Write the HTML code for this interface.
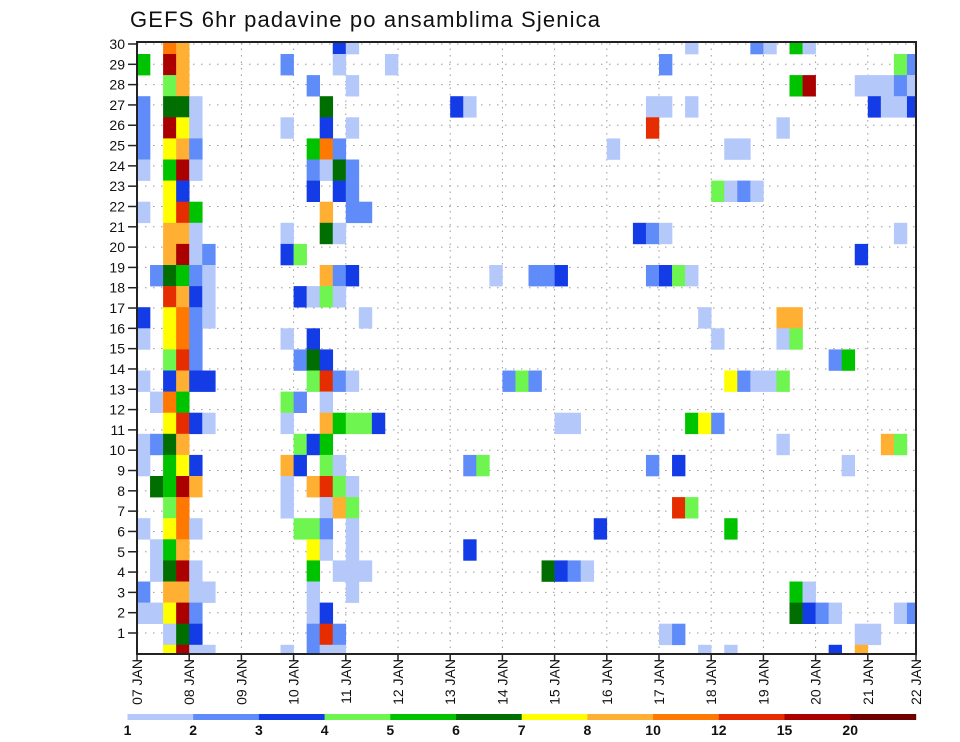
<!DOCTYPE html>
<html><head><meta charset="utf-8">
<style>
html,body{margin:0;padding:0;background:#fff;}
svg{display:block;font-family:"Liberation Sans",sans-serif;}
</style></head>
<body>
<svg id="chart" width="960" height="742" viewBox="0 0 960 742">
<defs><clipPath id="plotclip"><rect x="137" y="42" width="779" height="612"/></clipPath></defs>
<text x="130" y="27" font-size="22" fill="#111" textLength="470" lengthAdjust="spacing">GEFS 6hr padavine po ansamblima Sjenica</text>
<g id="grid"></g>
<g id="cells" clip-path="url(#plotclip)"></g>
<g id="axes"></g>
<g id="legend"></g>
</svg>
<script>
// colour levels (mm) and legend labels
const levels = [1,2,3,4,5,6,7,8,10,12,15,20];
const levelColors = ["#b4c8fa","#608cfa","#143ce6","#6ef550","#00c300","#006e00","#ffff00","#ffb032","#ff7800","#e62d00","#aa0000","#6e0000"];
const dayLabels = ["07 JAN","08 JAN","09 JAN","10 JAN","11 JAN","12 JAN","13 JAN","14 JAN","15 JAN","16 JAN","17 JAN","18 JAN","19 JAN","20 JAN","21 JAN","22 JAN"];
const memberLabels = [1,2,3,4,5,6,7,8,9,10,11,12,13,14,15,16,17,18,19,20,21,22,23,24,25,26,27,28,29,30];
// precip[row] = list of [6h-step index, mm]; rows top to bottom
const precip = [
[[2,11],[3,9],[15,3.5],[16,1.5],[42,1.5],[47,2.5],[48,1.5],[50,5.5],[51,1.5]],
[[0,5.5],[2,17],[3,9],[11,2.5],[15,1.5],[19,1.5],[40,2.5],[58,4.5],[59,2.5]],
[[2,4.5],[3,9],[13,2.5],[16,1.5],[50,5.5],[51,17],[55,1.5],[56,1.5],[57,1.5],[58,2.5],[59,1.5]],
[[0,2.5],[2,6.5],[3,6.5],[4,1.5],[14,6.5],[24,3.5],[25,1.5],[39,1.5],[40,1.5],[42,1.5],[56,3.5],[57,1.5],[58,1.5],[59,3.5]],
[[0,2.5],[2,17],[3,7.5],[4,1.5],[11,1.5],[14,3.5],[16,1.5],[39,13.5],[49,1.5]],
[[0,2.5],[2,7.5],[3,9],[4,2.5],[13,5.5],[14,11],[15,2.5],[36,1.5],[45,1.5],[46,1.5]],
[[0,1.5],[2,5.5],[3,17],[4,1.5],[13,2.5],[14,1.5],[15,6.5],[16,2.5]],
[[2,7.5],[3,3.5],[13,3.5],[15,3.5],[16,2.5],[44,4.5],[45,1.5],[46,2.5],[47,1.5]],
[[0,1.5],[2,7.5],[3,13.5],[4,5.5],[14,9],[16,2.5],[17,2.5]],
[[2,9],[3,9],[4,1.5],[11,1.5],[14,6.5],[15,1.5],[38,3.5],[39,2.5],[40,1.5],[58,1.5]],
[[2,9],[3,17],[4,1.5],[5,2.5],[11,3.5],[12,4.5],[55,3.5]],
[[1,2.5],[2,6.5],[3,5.5],[4,2.5],[5,1.5],[14,9],[15,2.5],[16,3.5],[27,1.5],[30,2.5],[31,2.5],[32,3.5],[39,2.5],[40,3.5],[41,4.5],[42,1.5]],
[[2,13.5],[3,9],[4,3.5],[5,1.5],[12,3.5],[13,1.5],[14,4.5],[15,1.5]],
[[0,3.5],[2,7.5],[3,11],[4,2.5],[5,1.5],[17,1.5],[43,1.5],[49,9],[50,9]],
[[0,1.5],[2,7.5],[3,11],[4,2.5],[11,1.5],[13,3.5],[44,1.5],[49,1.5],[50,4.5]],
[[2,4.5],[3,13.5],[4,2.5],[12,2.5],[13,6.5],[14,3.5],[53,2.5],[54,5.5]],
[[0,1.5],[2,3.5],[3,9],[4,3.5],[5,3.5],[13,4.5],[14,13.5],[15,2.5],[16,1.5],[28,2.5],[29,4.5],[30,2.5],[45,7.5],[46,2.5],[47,1.5],[48,1.5],[49,4.5]],
[[1,1.5],[2,11],[3,5.5],[11,4.5],[12,2.5],[14,1.5]],
[[2,7.5],[3,13.5],[4,3.5],[5,1.5],[11,1.5],[14,9],[15,5.5],[16,4.5],[17,4.5],[18,3.5],[32,1.5],[33,1.5],[42,5.5],[43,7.5],[44,2.5]],
[[0,1.5],[1,2.5],[2,6.5],[3,9],[12,4.5],[13,3.5],[14,5.5],[49,1.5],[57,9],[58,4.5]],
[[0,1.5],[2,5.5],[3,7.5],[4,3.5],[11,9],[12,3.5],[14,4.5],[15,1.5],[25,2.5],[26,4.5],[39,2.5],[41,3.5],[54,1.5]],
[[1,6.5],[2,5.5],[3,17],[4,9],[11,1.5],[13,9],[14,13.5],[15,4.5],[16,1.5]],
[[2,4.5],[3,11],[11,1.5],[14,1.5],[15,9],[16,4.5],[41,13.5],[42,4.5]],
[[0,1.5],[2,7.5],[3,11],[4,1.5],[12,4.5],[13,4.5],[14,2.5],[16,1.5],[35,3.5],[45,5.5]],
[[1,1.5],[2,5.5],[3,9],[13,7.5],[14,1.5],[16,1.5],[25,3.5]],
[[1,1.5],[2,6.5],[3,17],[4,1.5],[13,5.5],[15,1.5],[16,1.5],[17,1.5],[31,6.5],[32,3.5],[33,2.5],[34,1.5]],
[[0,2.5],[2,9],[3,9],[4,1.5],[5,1.5],[13,1.5],[16,1.5],[50,5.5],[51,1.5]],
[[0,1.5],[1,1.5],[2,7.5],[3,17],[4,2.5],[13,1.5],[14,3.5],[50,6.5],[51,3.5],[52,2.5],[53,1.5],[58,1.5],[59,2.5]],
[[2,1.5],[3,6.5],[4,3.5],[13,2.5],[14,13.5],[15,2.5],[40,1.5],[41,2.5],[55,1.5],[56,1.5]],
[[2,7.5],[3,17],[4,1.5],[5,1.5],[11,1.5],[13,2.5],[14,1.5],[15,1.5],[43,1.5],[45,1.5],[53,3.5],[55,9]]
];

const NS="http://www.w3.org/2000/svg";
const X0=137, X1=916, Y0=42, Y1=654, DAYW=52.2, STEPW=DAYW/4, ROWH=21.1;
function xStep(i){return X0+i*STEPW;}
function xDay(d){return Math.min(X0+d*DAYW, X1);}
function yRow(k){return 54+ROWH*(k-1);}
function yMember(m){return 44+(633-44)/29*(30-m);}
function colorFor(v){let c=null;for(let i=0;i<levels.length;i++){if(v>=levels[i])c=levelColors[i];}return c;}
function mk(tag,attrs,parent){const e=document.createElementNS(NS,tag);for(const k in attrs)e.setAttribute(k,attrs[k]);parent.appendChild(e);return e;}

const grid=document.getElementById('grid');
const cells=document.getElementById('cells');
const axes=document.getElementById('axes');
const legend=document.getElementById('legend');

// grid
memberLabels.forEach(m=>{
  const l=mk('line',{x1:X0,x2:X1,y1:yMember(m),y2:yMember(m),stroke:'#999','stroke-width':1,'stroke-dasharray':'1.5,6.5'},grid);
  
  
});
dayLabels.forEach((d,i)=>{
  if(i===0||i===dayLabels.length-1)return;
  const l=mk('line',{x1:xDay(i),x2:xDay(i),y1:Y0,y2:Y1,stroke:'#999','stroke-width':1,'stroke-dasharray':'1.5,5'},grid);
  
  
});

// cells
precip.forEach((row,k)=>{
  row.forEach(p=>{
    const c=colorFor(p[1]); if(!c)return;
    const r=mk('rect',{x:xStep(p[0]),y:yRow(k),width:STEPW+0.3,height:ROWH+0.3,fill:c},cells);
    
    
  });
});

// frame
const fr=mk('rect',{x:X0,y:Y0,width:X1-X0,height:Y1-Y0,fill:'none',stroke:'#222','stroke-width':2},axes);



// y ticks
memberLabels.forEach(m=>{
  const y=yMember(m);
  mk('line',{x1:X0-9,x2:X0,y1:y,y2:y,stroke:'#222','stroke-width':1.5},axes);
  const t=mk('text',{x:X0-12,y:y+5,'font-size':14,'text-anchor':'end',fill:'#111'},axes);
  t.textContent=m;
  
  
});
// x ticks
dayLabels.forEach((d,i)=>{
  const x=xDay(i);
  mk('line',{x1:x,x2:x,y1:Y1,y2:Y1+7,stroke:'#222','stroke-width':1.5},axes);
  const t=mk('text',{x:0,y:0,'font-size':14,'text-anchor':'end',fill:'#111',transform:'translate('+(x+5)+','+(Y1+5)+') rotate(-90)'},axes);
  t.textContent=d;
  
  
});

// legend
const LX=127.5, LW=65.7, LY=714, LH=6;
levelColors.forEach((c,i)=>{
  const r=mk('rect',{x:LX+i*LW,y:LY,width:LW+0.3,height:LH,fill:c},legend);
  
  
});
levels.forEach((v,i)=>{
  const t=mk('text',{x:LX+i*LW,y:735,'font-size':14,'font-weight':'bold','text-anchor':'middle',fill:'#111'},legend);
  t.textContent=v;
  
  
});
</script>
</body></html>
